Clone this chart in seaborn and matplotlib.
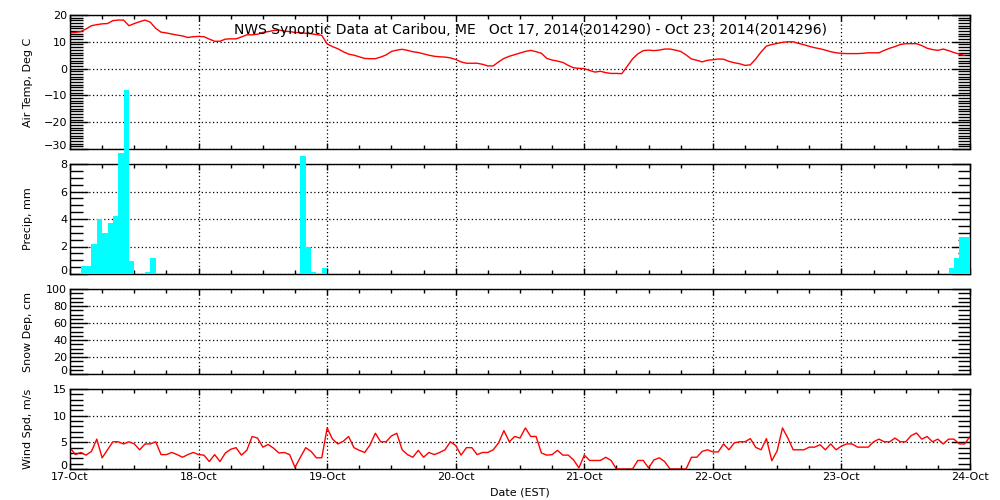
import numpy as np
import pandas as pd
import matplotlib
matplotlib.use("Agg")
import matplotlib.pyplot as plt
from matplotlib.ticker import MultipleLocator
import seaborn as sns

title = "NWS Synoptic Data at Caribou, ME   Oct 17, 2014(2014290) - Oct 23, 2014(2014296)"
day_labels = ["17-Oct", "18-Oct", "19-Oct", "20-Oct", "21-Oct", "22-Oct", "23-Oct", "24-Oct"]
x_label = "Date (EST)"

# hourly air temperature, deg C (hour 0 = Oct 17 00:00 EST)
temp_c = [
    13.3, 13.5, 13.8, 14.8, 16.0, 16.4, 16.7, 16.8, 17.9, 18.1,
    18.1, 16.0, 16.8, 17.5, 18.1, 17.3, 15.0, 13.6, 13.3, 12.9,
    12.5, 12.2, 11.6, 11.9, 12.0, 11.9, 11.0, 10.2, 10.2, 11.0,
    11.1, 11.1, 11.8, 12.6, 12.6, 12.8, 13.5, 13.8, 14.2, 14.4,
    14.0, 13.8, 13.5, 13.4, 13.2, 13.0, 12.7, 12.4, 9.2, 8.2,
    7.4, 6.3, 5.4, 5.0, 4.4, 3.8, 3.7, 3.7, 4.3, 5.1,
    6.4, 6.9, 7.2, 6.8, 6.3, 6.0, 5.5, 5.0, 4.6, 4.4,
    4.3, 4.0, 3.4, 2.5, 2.0, 2.0, 2.0, 1.6, 1.0, 1.0,
    2.5, 3.8, 4.6, 5.2, 5.8, 6.4, 6.8, 6.3, 5.7, 3.8,
    3.2, 2.8, 2.3, 1.2, 0.3, 0.1, 0.0, -0.7, -1.3, -1.0,
    -1.5, -1.8, -1.8, -1.9, 0.8, 3.6, 5.5, 6.7, 6.9, 6.7,
    6.9, 7.3, 7.3, 6.9, 6.4, 5.1, 3.6, 3.1, 2.5, 3.1,
    3.3, 3.6, 3.5, 2.7, 2.2, 1.8, 1.2, 1.4, 3.6, 6.2,
    8.4, 9.0, 9.4, 9.8, 10.0, 10.0, 9.4, 8.9, 8.3, 7.8,
    7.4, 6.9, 6.3, 5.9, 5.7, 5.6, 5.6, 5.6, 5.7, 5.9,
    5.9, 5.9, 6.8, 7.6, 8.2, 9.0, 9.3, 9.3, 9.3, 8.6,
    7.6, 7.1, 6.8, 7.3, 6.7, 6.0, 5.4, 4.9,
]

# hourly precipitation, mm (only non-zero hours listed)
precip_hours = [2, 3, 4, 5, 6, 7, 8, 9, 10, 11, 14, 15, 43, 44, 45, 47, 164, 165, 166, 167]
precip_mm = [0.6, 0.6, 2.2, 4.0, 3.0, 3.7, 4.2, 8.8, 13.4, 0.95, 0.15, 1.15,
             8.6, 1.95, 0.15, 0.45, 0.45, 1.15, 2.7, 2.7]

# hourly wind speed, m/s
wind_ms = [
    4.0, 2.7, 3.1, 2.6, 3.3, 5.6, 2.1, 3.6, 5.1, 5.1,
    4.7, 5.1, 4.7, 3.6, 4.7, 4.7, 5.1, 2.7, 2.7, 3.1,
    2.7, 2.2, 2.7, 3.1, 2.7, 2.6, 1.4, 2.7, 1.4, 3.0,
    3.7, 4.0, 2.6, 3.5, 6.1, 5.8, 4.1, 4.6, 3.9, 3.0,
    3.1, 2.7, 0.3, 2.2, 4.0, 3.3, 2.1, 2.1, 7.7, 5.6,
    4.7, 5.2, 6.1, 4.0, 3.5, 3.1, 4.5, 6.7, 5.1, 5.1,
    6.2, 6.7, 3.6, 2.7, 2.2, 3.5, 2.2, 3.1, 2.7, 3.1,
    3.6, 5.1, 4.4, 2.6, 4.0, 4.0, 2.7, 3.1, 3.1, 3.6,
    4.9, 7.2, 5.1, 6.1, 5.8, 7.7, 6.1, 6.1, 3.0, 2.6,
    2.7, 3.5, 2.6, 2.6, 1.7, 0.2, 2.6, 1.6, 1.6, 1.6,
    2.2, 1.6, 0.0, 0.0, 0.0, 0.0, 1.6, 1.6, 0.2, 1.7,
    2.1, 1.4, 0.0, 0.0, 0.0, 0.0, 2.2, 2.2, 3.3, 3.6,
    3.2, 3.2, 4.7, 3.6, 4.9, 5.1, 5.1, 5.7, 4.05, 3.6,
    5.7, 1.55, 3.4, 7.7, 5.8, 3.6, 3.6, 3.6, 4.1, 4.1,
    4.55, 3.6, 4.7, 3.6, 4.3, 4.7, 4.7, 4.1, 4.1, 4.1,
    5.1, 5.6, 5.1, 5.1, 5.8, 5.1, 5.1, 6.25, 6.75, 5.6,
    6.1, 5.1, 5.6, 4.7, 5.6, 5.6, 4.7, 4.7, 6.1,
]

sns.set_theme(style="white")
plt.rcParams["font.family"] = ["DejaVu Sans"]
for k in ["text.color", "axes.labelcolor", "xtick.color", "ytick.color", "axes.edgecolor"]:
    plt.rcParams[k] = "black"

fig = plt.figure(figsize=(10, 5), dpi=100)
L, W = 0.07, 0.90
ax_t = fig.add_axes([L, 0.702, W, 0.268])
ax_p = fig.add_axes([L, 0.452, W, 0.220])
ax_s = fig.add_axes([L, 0.252, W, 0.170])
ax_w = fig.add_axes([L, 0.062, W, 0.160])

sns.lineplot(x=np.arange(len(temp_c)), y=temp_c, ax=ax_t, color="red", linewidth=1)

precip_df = pd.DataFrame({"hour": np.asarray(precip_hours, dtype=float) + 0.5,
                          "mm": np.asarray(precip_mm, dtype=float)})
try:
    sns.histplot(data=precip_df, x="hour", weights="mm", bins=168, binrange=(0, 168),
                 ax=ax_p, color="#00FFFF", alpha=1, linewidth=0)
except Exception:
    ax_p.bar(precip_hours, precip_mm, width=1.0, align="edge", color="#00FFFF", linewidth=0)
for p in ax_p.patches:
    p.set_clip_on(False)
    p.set_zorder(5)
    p.set_facecolor("#00FFFF")
    p.set_linewidth(0)

sns.lineplot(x=np.arange(len(wind_ms)), y=wind_ms, ax=ax_w, color="red", linewidth=1)


def style(ax, ylim, major, minor, ylabel):
    ax.set_xlim(0, 168)
    ax.set_ylim(*ylim)
    ax.xaxis.set_major_locator(MultipleLocator(24))
    ax.xaxis.set_minor_locator(MultipleLocator(6))
    ax.set_yticks(np.arange(ylim[0], ylim[1] + major / 2, major))
    ax.set_ylim(*ylim)
    ax.yaxis.set_minor_locator(MultipleLocator(minor))
    ax.tick_params(axis="both", which="both", direction="in", top=True, right=True,
                   bottom=True, left=True, colors="black", labelsize=8, width=1)
    ax.tick_params(axis="x", which="major", length=4, pad=2)
    ax.tick_params(axis="x", which="minor", length=3)
    ax.tick_params(axis="y", which="major", length=13, pad=2)
    ax.tick_params(axis="y", which="minor", length=9)
    ax.grid(True, which="major", color="black", linestyle=(0, (1, 2)), linewidth=0.9)
    for s in ax.spines.values():
        s.set_color("black")
        s.set_linewidth(1)
        s.set_visible(True)
    ax.set_ylabel(ylabel, fontsize=8)
    ax.yaxis.set_label_coords(-0.041, 0.5)
    ax.set_xlabel("")
    ax.tick_params(axis="x", labelbottom=False)


style(ax_t, (-30, 20), 10, 1, "Air Temp, Deg C")
style(ax_p, (0, 8), 2, 0.5, "Precip, mm")
style(ax_s, (0, 100), 20, 5, "Snow Dep, cm")
style(ax_w, (0, 15), 5, 1, "Wind Spd, m/s")

ax_w.set_xticks(np.arange(0, 169, 24))
ax_w.set_xticklabels(day_labels)
ax_w.tick_params(axis="x", labelbottom=True)
ax_w.set_xlabel(x_label, fontsize=8, labelpad=4)

# lowest y tick label sits just above the bottom axis line
for ax in (ax_t, ax_p, ax_s, ax_w):
    ax.yaxis.get_major_ticks()[0].label1.set_verticalalignment("baseline")

fig.text(0.5305, 0.94, title, ha="center", va="center", fontsize=10)

fig.savefig("out.png", dpi=100, facecolor="white")
